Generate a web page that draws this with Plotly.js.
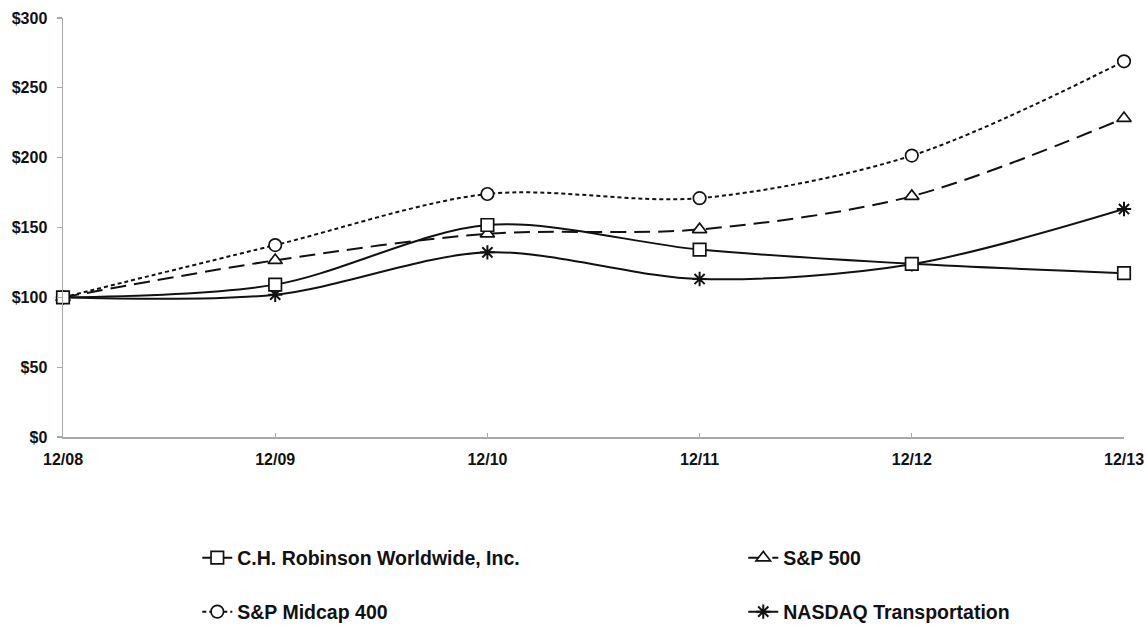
<!DOCTYPE html>
<html>
<head>
<meta charset="utf-8">
<script src="https://cdn.plot.ly/plotly-3.0.1.min.js"></script>
<style>html,body{margin:0;padding:0;background:#fff;}#chart{width:1147px;height:627px;}</style>
</head>
<body>
<div id="chart"></div>
<script>
const categories = ["12/08", "12/09", "12/10", "12/11", "12/12", "12/13"];
const chrw = [100, 109.1, 151.8, 134.2, 124.0, 117.3];
const sp500 = [100, 126.5, 145.5, 148.6, 172.4, 228.2];
const midcap400 = [100, 137.4, 174.0, 171.0, 201.5, 269.0];
const nasdaqTrans = [100, 101.9, 132.2, 113.1, 123.7, 163.2];
const seriesNames = ["C.H. Robinson Worldwide, Inc.", "S&P 500", "S&P Midcap 400", "NASDAQ Transportation"];
const yTicks = [0, 50, 100, 150, 200, 250, 300];

const font = {family: "Liberation Sans, Arial, sans-serif", size: 16, color: "#111", weight: "bold"};
const axisGray = "#a3aba3";

function tr(y, name, dash, symbol, legendId) {
  return {
    x: categories, y: y, name: name, type: "scatter", mode: "lines+markers",
    line: {color: "#111", width: 2, dash: dash, shape: "spline", smoothing: 0.9},
    marker: {symbol: symbol, size: 12.5, color: "#fff", line: {color: "#111", width: 1.7}},
    legend: legendId, cliponaxis: false, hoverinfo: "x+y+name"
  };
}
const data = [
  tr(midcap400, seriesNames[2], "4px,3px", "circle", "legend3"),
  tr(sp500, seriesNames[1], "16px,8px", "triangle-up", "legend2"),
  tr(nasdaqTrans, seriesNames[3], "solid", "asterisk-open", "legend4"),
  tr(chrw, seriesNames[0], "solid", "square", "legend")
];
data[2].marker = {symbol: "asterisk-open", size: 12, color: "#111", line: {color: "#111", width: 2}};

function leg(x, y) {
  return {x: x, y: y, xref: "container", yref: "container", xanchor: "left", yanchor: "middle",
          bgcolor: "rgba(0,0,0,0)", borderwidth: 0,
          font: {family: font.family, size: 19.5, color: "#111", weight: "bold"}};
}

const layout = {
  width: 1147, height: 627,
  margin: {l: 63, r: 23, t: 18, b: 190, autoexpand: false},
  paper_bgcolor: "#fff", plot_bgcolor: "#fff",
  showlegend: true,
  font: font,
  xaxis: {
    type: "category", range: [0, 5], showgrid: false, zeroline: false,
    showline: true, linecolor: axisGray, linewidth: 1.5,
    ticks: "inside", ticklen: 4, tickcolor: axisGray, tickwidth: 1.2,
    tickfont: font, ticklabelstandoff: 7, automargin: false
  },
  yaxis: {
    range: [0, 300], tickvals: yTicks, ticktext: yTicks.map(v => "$" + v),
    showgrid: false, zeroline: false,
    showline: true, linecolor: axisGray, linewidth: 1.5,
    ticks: "outside", ticklen: 5, tickcolor: axisGray, tickwidth: 1.2,
    tickfont: font, ticklabelstandoff: 6, automargin: false
  },
  legend: leg(0.172, 0.110),
  legend2: leg(0.648, 0.110),
  legend3: leg(0.172, 0.024),
  legend4: leg(0.648, 0.024)
};

Plotly.newPlot("chart", data, layout, {displayModeBar: false, staticPlot: true});
</script>
</body>
</html>
